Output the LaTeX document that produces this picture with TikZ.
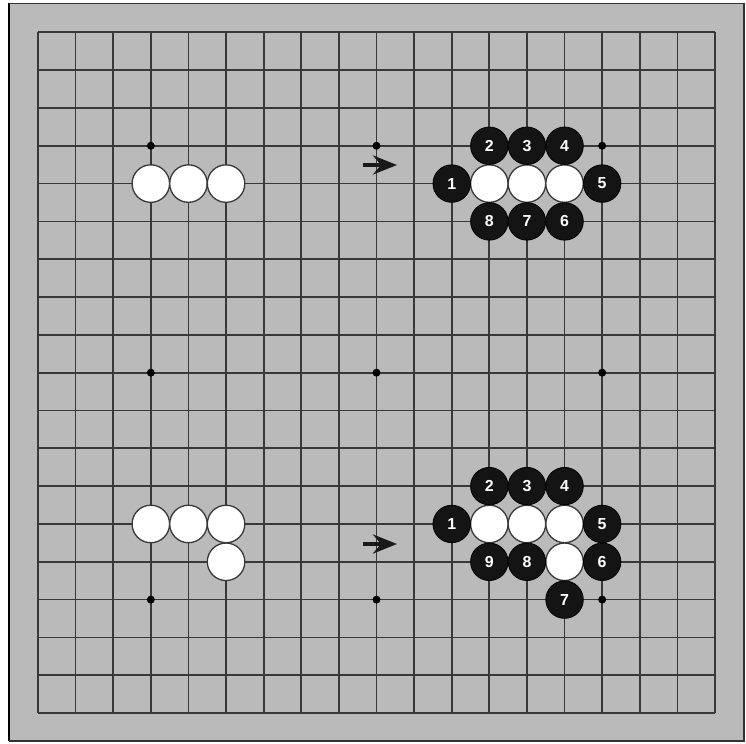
\documentclass[tikz,border=0pt]{standalone}
\usepackage{fontspec}
\setmainfont{Liberation Sans}
\usetikzlibrary{arrows.meta}
\definecolor{boardgray}{gray}{0.73}
\definecolor{linegray}{gray}{0.22}
\tikzset{
  gridline/.style={draw=linegray, line width=1.7bp},
  wstone/.style={circle, minimum size=37.5bp, inner sep=0pt, fill=white, draw=linegray, line width=1.3bp},
  bstone/.style={circle, minimum size=37.5bp, inner sep=0pt, fill=black!92, draw=black, line width=0.8bp,
    text=white, font=\bfseries\fontsize{16}{16}\selectfont},
  hoshi/.style={circle, fill=black, inner sep=0pt, minimum size=8bp},
  arr/.style={line width=4.5bp, -{Stealth[length=24bp, width=19bp, inset=8bp]}, black!90},
}
\begin{document}
\begin{tikzpicture}[x=1bp, y=-1bp]
\useasboundingbox (0,0) rectangle (746,744);
\fill[white] (0,0) rectangle (746,744);
\fill[boardgray] (9,3.5) rectangle (744,741);
\draw[black, line width=2.5bp] (9,741) -- (9,3.5);
\draw[black!80, line width=1.6bp] (9,3.5) -- (744,3.5) -- (744,741) -- (9,741);
\begin{scope}[shift={(38,32.3)}, x=37.61bp, y=-37.82bp]
  \foreach \i in {0,...,18} {
    \draw[gridline] (\i,0) -- (\i,18);
    \draw[gridline] (0,\i) -- (18,\i);
  }
  \foreach \a/\b [count=\k] in {3/3,9/3,15/3,3/9,9/9,15/9,3/15,9/15,15/15}
    \node[hoshi] (h\k) at (\a,\b) {};
  % top left group
  \node[wstone] (tw1) at (3,4) {};
  \node[wstone] (tw2) at (4,4) {};
  \node[wstone] (tw3) at (5,4) {};
  % top right group
  \node[wstone] (trw1) at (12,4) {};
  \node[wstone] (trw2) at (13,4) {};
  \node[wstone] (trw3) at (14,4) {};
  \node[bstone] (trb1) at (11,4) {1};
  \node[bstone] (trb2) at (12,3) {2};
  \node[bstone] (trb3) at (13,3) {3};
  \node[bstone] (trb4) at (14,3) {4};
  \node[bstone] (trb5) at (15,4) {5};
  \node[bstone] (trb6) at (14,5) {6};
  \node[bstone] (trb7) at (13,5) {7};
  \node[bstone] (trb8) at (12,5) {8};
  % bottom left group
  \node[wstone] (bw1) at (3,13) {};
  \node[wstone] (bw2) at (4,13) {};
  \node[wstone] (bw3) at (5,13) {};
  \node[wstone] (bw4) at (5,14) {};
  % bottom right group
  \node[wstone] (brw1) at (12,13) {};
  \node[wstone] (brw2) at (13,13) {};
  \node[wstone] (brw3) at (14,13) {};
  \node[wstone] (brw4) at (14,14) {};
  \node[bstone] (brb1) at (11,13) {1};
  \node[bstone] (brb2) at (12,12) {2};
  \node[bstone] (brb3) at (13,12) {3};
  \node[bstone] (brb4) at (14,12) {4};
  \node[bstone] (brb5) at (15,13) {5};
  \node[bstone] (brb6) at (15,14) {6};
  \node[bstone] (brb7) at (14,15) {7};
  \node[bstone] (brb8) at (13,14) {8};
  \node[bstone] (brb9) at (12,14) {9};
\end{scope}
\coordinate (a1s) at (363,165);
\coordinate (a1e) at (397,165);
\coordinate (a2s) at (363,544);
\coordinate (a2e) at (397,544);
\draw[arr] (a1s) -- (a1e);
\draw[arr] (a2s) -- (a2e);
\end{tikzpicture}
\end{document}
